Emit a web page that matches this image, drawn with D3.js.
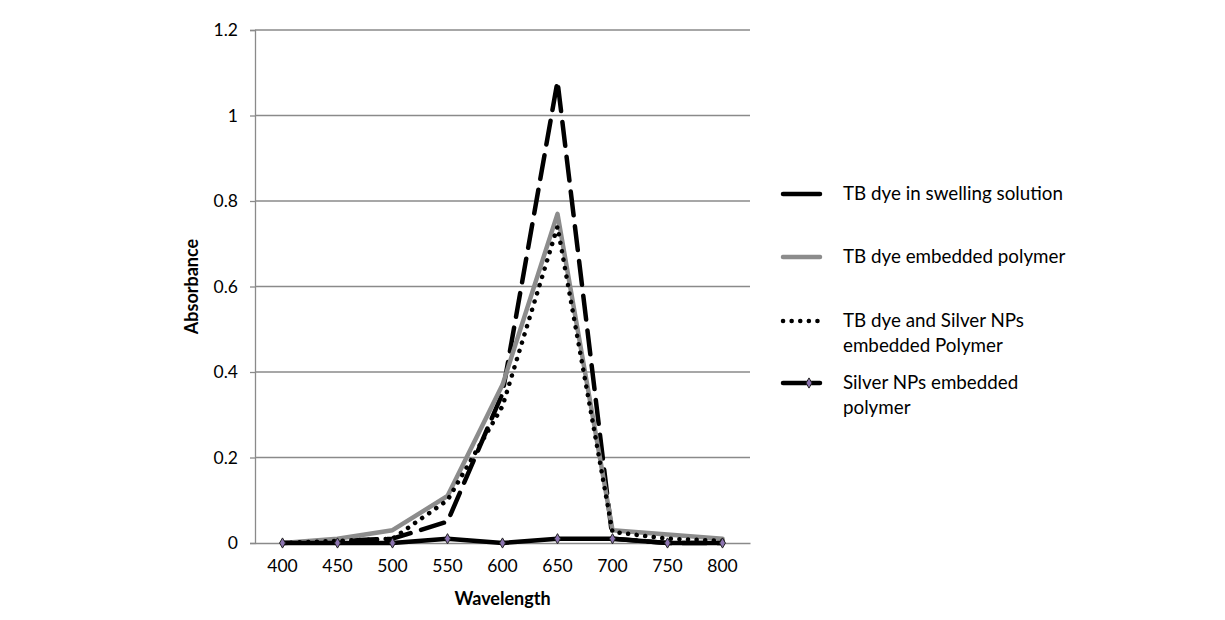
<!DOCTYPE html>
<html><head><meta charset="utf-8">
<script src="https://cdn.jsdelivr.net/npm/d3@7"></script>
<style>body{margin:0;background:#fff;} text{font-family:Lato,"Open Sans",sans-serif;}</style>
</head><body>
<svg id="c" width="1225" height="620"></svg>
<script>
const wavelengths = ["400","450","500","550","600","650","700","750","800"];
const tbSwelling = [0, 0.005, 0.01, 0.05, 0.35, 1.08, 0.01, 0, 0];
const tbPolymer = [0, 0.01, 0.03, 0.11, 0.37, 0.77, 0.03, 0.02, 0.01];
const tbSilver = [0, 0.005, 0.01, 0.1, 0.32, 0.74, 0.026, 0.01, 0.005];
const silverNPs = [0, 0, 0, 0.01, 0, 0.01, 0.01, 0, 0];
const yTicks = [0, 0.2, 0.4, 0.6, 0.8, 1, 1.2];
const seriesNames = ["TB dye in swelling solution", "TB dye embedded polymer", "TB dye and Silver NPs embedded Polymer", "Silver NPs embedded polymer"];

const svg = d3.select("#c");
const L = 255, R = 750, T = 30, B = 543;
const x = d3.scaleBand().domain(wavelengths).range([L, R]);
const y = d3.scaleLinear().domain([0, 1.2]).range([B, T]);
const grid = "#8a8a8a";

svg.append("g").selectAll("line").data(yTicks.filter(d => d > 0)).join("line")
  .attr("x1", L).attr("x2", R).attr("y1", d => y(d)).attr("y2", d => y(d))
  .attr("stroke", grid).attr("stroke-width", 1.3);

const ya = svg.append("g").attr("transform", `translate(${L},0)`)
  .call(d3.axisLeft(y).tickValues(yTicks).tickSize(5).tickPadding(12).tickFormat(d => String(d)));
ya.select(".domain").attr("stroke", grid).attr("stroke-width", 1.3);
ya.selectAll(".tick line").attr("stroke", grid).attr("stroke-width", 1.3);
ya.selectAll("text").attr("font-size", 17.5).attr("fill", "#000").attr("font-family", "Lato");

const xa = svg.append("g").attr("transform", `translate(0,${B})`)
  .call(d3.axisBottom(x).tickSize(0).tickPadding(17));
xa.select(".domain").attr("stroke", grid).attr("stroke-width", 1.3);
xa.selectAll("text").attr("font-size", 17.5).attr("fill", "#000").attr("font-family", "Lato");

svg.append("text").attr("x", (L + R) / 2).attr("y", 605).attr("text-anchor", "middle")
  .attr("font-size", 18).attr("font-weight", "bold").text("Wavelength");
svg.append("text").attr("transform", `translate(198,${(T + B) / 2}) rotate(-90)`).attr("text-anchor", "middle")
  .attr("font-size", 18).attr("font-weight", "bold").text("Absorbance");

const line = d3.line().x((d, i) => x(wavelengths[i]) + x.bandwidth() / 2).y(d => y(d));

const styles = [
  {data: tbSwelling, stroke: "#000", w: 4.5, dash: "24,11", cap: "round"},
  {data: tbPolymer, stroke: "#8c8c8c", w: 4.5, dash: null, cap: "round"},
  {data: tbSilver, stroke: "#000", w: 4.5, dash: "0.1,8.5", cap: "round"},
  {data: silverNPs, stroke: "#000", w: 4.5, dash: null, cap: "round", marker: true}
];
styles.forEach(s => {
  svg.append("path").datum(s.data).attr("d", line).attr("fill", "none")
    .attr("stroke", s.stroke).attr("stroke-width", s.w).attr("stroke-linecap", s.cap)
    .attr("stroke-linejoin", "round").attr("stroke-dasharray", s.dash);
});
const diamond = d3.symbol().type(d3.symbolDiamond).size(30);
svg.append("g").selectAll("path").data(silverNPs).join("path")
  .attr("d", diamond)
  .attr("transform", (d, i) => `translate(${x(wavelengths[i]) + x.bandwidth() / 2},${y(d)})`)
  .attr("fill", "#8c74b0").attr("stroke", "#222").attr("stroke-width", 1);

const legY = [194, 257, 321, 383];
const lg = svg.append("g");
styles.forEach((s, i) => {
  const ly = legY[i];
  lg.append("line").attr("x1", 783).attr("x2", 820).attr("y1", ly).attr("y2", ly)
    .attr("stroke", s.stroke).attr("stroke-width", s.w).attr("stroke-linecap", s.cap)
    .attr("stroke-dasharray", i === 0 ? "40,0" : s.dash);
  if (s.marker) lg.append("path").attr("d", diamond).attr("transform", `translate(809,${ly})`)
    .attr("fill", "#8c74b0").attr("stroke", "#222").attr("stroke-width", 1);
});
const legText = [["TB dye in swelling solution"], ["TB dye embedded polymer"], ["TB dye and Silver NPs", "embedded Polymer"], ["Silver NPs embedded", "polymer"]];
legText.forEach((lines, i) => {
  const t = lg.append("text").attr("x", 843).attr("y", legY[i] + 6).attr("font-size", 18.8);
  lines.forEach((ln, j) => t.append("tspan").attr("x", 843).attr("dy", j === 0 ? 0 : 24.5).text(ln));
});
</script>
</body></html>
